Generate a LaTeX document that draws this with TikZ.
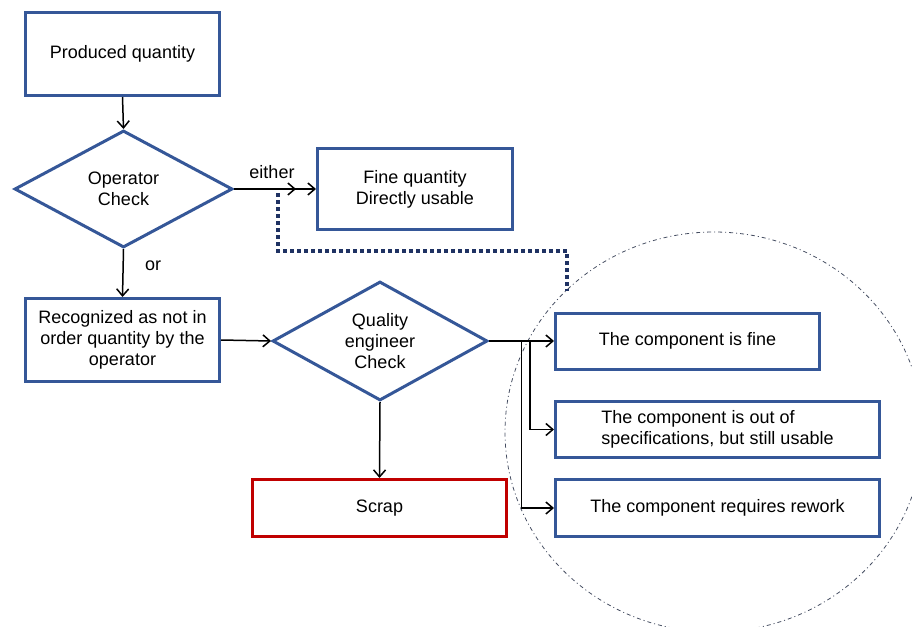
\documentclass[tikz,border=0pt]{standalone}
\usepackage{fontspec}
\setmainfont{Liberation Sans}
\usetikzlibrary{shapes.geometric,arrows.meta}
\definecolor{boxblue}{RGB}{53,87,152}
\definecolor{scrapred}{RGB}{192,0,0}
\definecolor{navy}{RGB}{31,50,99}
\definecolor{ringgray}{RGB}{70,78,98}
\begin{document}
\begin{tikzpicture}[x=1pt,y=-1pt,
  font=\fontsize{18}{21}\selectfont,
  box/.style={draw=boxblue, line width=3pt, fill=white, inner sep=0pt, align=center},
  redbox/.style={box, draw=scrapred},
  decision/.style={diamond, aspect=2, draw=boxblue, line width=3pt, fill=white, inner sep=0pt, align=center},
  arr/.style={line width=1.5pt, -{Straight Barb[length=7pt,width=12pt]}},
  dotline/.style={draw=navy, line width=3.5pt, dash pattern=on 3.5pt off 3.5pt},
  ring/.style={draw=ringgray, line width=0.8pt, dash pattern=on 4pt off 3pt on 1pt off 3pt}]
\useasboundingbox (0,0) rectangle (912,626);

% dash-dotted grouping of the engineer's outcomes
\draw[ring] (714,432) ellipse [x radius=209, y radius=200];

% nodes
\node[box, minimum width=194pt, minimum height=83pt] (prod) at (122.5,54) {Produced quantity};
\node[decision, minimum width=218pt, minimum height=117pt] (op) at (123.5,189) {Operator\\Check};
\node[box, minimum width=195pt, minimum height=81pt] (fine) at (415,189) {Fine quantity\\Directly usable};
\node[box, minimum width=194pt, minimum height=83pt] (rec) at (122.5,340) {Recognized as not in\\order quantity by the\\operator};
\node[decision, minimum width=215pt, minimum height=119pt] (qe) at (380,341) {Quality\\engineer\\Check};
\node[redbox, minimum width=254pt, minimum height=57pt] (scrap) at (379.5,508) {Scrap};
\node[box, minimum width=264pt, minimum height=56pt] (cfine) at (687.5,341) {The component is fine};
\node[box, minimum width=324pt, minimum height=56pt, align=left] (oos) at (717.5,429.5) {The component is out of\\specifications, but still usable};
\node[box, minimum width=324pt, minimum height=57pt] (rew) at (717.5,508) {The component requires rework};

% labels
\node (either) at (272,172) {either};
\node (or) at (153,266) {or};

% helper points
\coordinate (eithertip) at (296,189);
\coordinate (dstart) at (278,193);
\coordinate (dcorner) at (567,251);
\coordinate (dend) at (567,291);
\coordinate (b1) at (530,341);
\coordinate (b2) at (521.5,341);

% connectors
\draw[arr] (prod.south) -- (op.north);
\draw[arr] (op.east) -- (fine.west);
\draw[arr] (op.east) -- (eithertip);
\draw[arr] (op.south) -- (rec.north);
\draw[arr] (rec.east) -- (qe.west);
\draw[arr] (qe.south) -- (scrap.north);
\draw[arr] (qe.east) -- (cfine.west);
\draw[arr] (b1) |- (oos.west);
\draw[arr] (b2) |- (rew.west);

% dotted link from the "either" branch to the outcome group
\draw[dotline] (dstart) |- (dcorner) -- (dend);
\end{tikzpicture}
\end{document}
